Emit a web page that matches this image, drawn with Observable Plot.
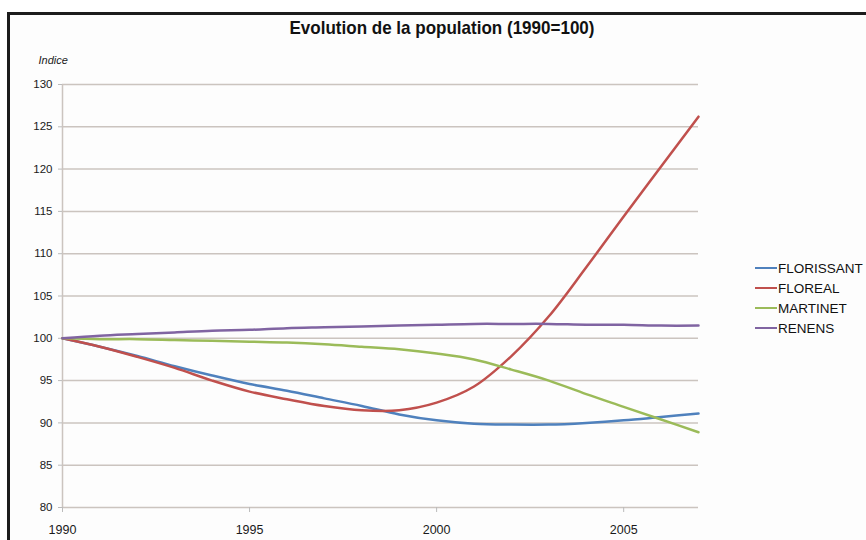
<!DOCTYPE html>
<html>
<head>
<meta charset="utf-8">
<script src="https://cdn.jsdelivr.net/npm/d3@7"></script>
<script src="https://cdn.jsdelivr.net/npm/@observablehq/plot@0.6"></script>
<style>
  html, body { margin: 0; padding: 0; background: #fff; }
  #wrap { position: relative; width: 866px; height: 540px; overflow: hidden; font-family: "Liberation Sans", Arial, sans-serif; }
  #frame { position: absolute; left: 7px; top: 12px; width: 900px; height: 600px;
           border-left: 3px solid #1c1c1c; border-top: 3px solid #1c1c1c; background: #fdfdfd; }
  #title { position: absolute; top: 17px; left: 442px; white-space: nowrap; transform-origin: 0 50%;
           font-family: "Liberation Sans", Arial, sans-serif;
           font-weight: bold; font-size: 18.5px; line-height: 22px; color: #111; }
  #chart { position: absolute; left: 0; top: 40px; }
  #legend { position: absolute; left: 755px; top: 258px; }
  .item { display: flex; align-items: center; height: 20px; font-size: 13.5px; color: #111; white-space: nowrap; }
  .swatch { width: 22px; height: 2.5px; margin-right: 1px; }
</style>
</head>
<body>
<div id="wrap">
  <div id="frame"></div>
  <div id="title">Evolution de la population (1990=100)</div>
  <div id="chart"></div>
  <div id="legend"></div>
</div>
<script>
// Index of population, base 1990 = 100
const years = [1990, 1991, 1992, 1993, 1994, 1995, 1996, 1997, 1998, 1999, 2000, 2001, 2002, 2003, 2004, 2005, 2006, 2007];
const florissant = [100, 99.0, 97.9, 96.7, 95.6, 94.6, 93.8, 92.9, 92.0, 91.0, 90.3, 89.9, 89.8, 89.8, 90.0, 90.3, 90.7, 91.1];
const floreal    = [100, 99.0, 97.8, 96.5, 95.0, 93.7, 92.8, 92.0, 91.5, 91.5, 92.4, 94.3, 97.9, 102.6, 108.4, 114.4, 120.3, 126.2];
const martinet   = [100, 99.9, 99.9, 99.8, 99.7, 99.6, 99.5, 99.3, 99.0, 98.7, 98.2, 97.5, 96.3, 95.0, 93.4, 91.9, 90.4, 88.9];
const renens     = [100, 100.3, 100.5, 100.7, 100.9, 101.0, 101.2, 101.3, 101.4, 101.5, 101.6, 101.7, 101.7, 101.7, 101.6, 101.6, 101.5, 101.5];

const seriesNames = ["FLORISSANT", "FLOREAL", "MARTINET", "RENENS"];
const seriesValues = [florissant, floreal, martinet, renens];
const seriesColors = ["#4f81bd", "#c0504d", "#9bbb59", "#8064a2"];

const xTicks = [1990, 1995, 2000, 2005];
const yTicks = [80, 85, 90, 95, 100, 105, 110, 115, 120, 125, 130];

const rows = seriesNames.flatMap((name, i) =>
  years.map((year, j) => ({series: name, year, value: seriesValues[i][j]}))
);

const chart = Plot.plot({
  width: 866,
  height: 500,
  marginTop: 44,
  marginBottom: 33,
  marginLeft: 62,
  marginRight: 168,
  style: {fontFamily: "Liberation Sans, Arial, sans-serif", fontSize: "11px", color: "#1a1a1a", background: "transparent"},
  x: {domain: [1990, 2007]},
  y: {domain: [80, 130]},
  color: {domain: seriesNames, range: seriesColors},
  marks: [
    Plot.gridY(yTicks, {stroke: "#cbc4bf", strokeOpacity: 1, strokeWidth: 1.5}),
    Plot.ruleX([1990], {stroke: "#cbc4bf", strokeWidth: 1.5}),
    Plot.axisY(yTicks, {tickSize: 4, tickPadding: 6, label: null, stroke: "#bbb", fontSize: 11.5}),
    Plot.axisX(xTicks, {tickSize: 5, tickPadding: 13, label: null, stroke: "#bbb", tickFormat: d => String(d), fontSize: 12.5}),
    Plot.line(rows, {x: "year", y: "value", z: "series", stroke: "series", curve: "catmull-rom", strokeWidth: 2.5}),
    Plot.text(["Indice"], {frameAnchor: "top-left", dx: -24, dy: -28, text: d => d, textAnchor: "start", fontStyle: "italic", fontSize: 11})
  ]
});
document.getElementById("chart").appendChild(chart);

// Title drawn in a narrow bold face: squeeze it to a condensed width, centred
const title = document.getElementById("title");
const tw = title.getBoundingClientRect().width;
const squeeze = 305 / tw;
title.style.transform = `translateX(${-152.5}px) scaleX(${squeeze})`;

// Legend
const legend = document.getElementById("legend");
seriesNames.forEach((name, i) => {
  const item = document.createElement("div");
  item.className = "item";
  const sw = document.createElement("span");
  sw.className = "swatch";
  sw.style.background = seriesColors[i];
  const label = document.createElement("span");
  label.textContent = name;
  item.appendChild(sw);
  item.appendChild(label);
  legend.appendChild(item);
});
</script>
</body>
</html>
